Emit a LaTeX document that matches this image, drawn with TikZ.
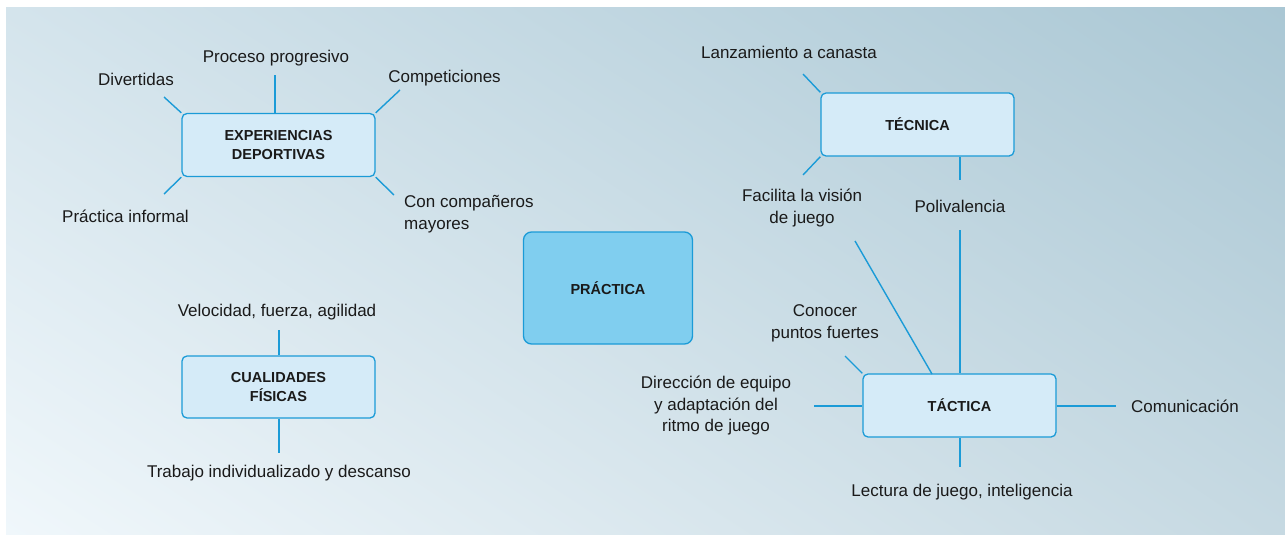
\documentclass[tikz,border=0pt]{standalone}
\usepackage{fontspec}
\setmainfont{Liberation Sans}
\usetikzlibrary{shadings}
\definecolor{linec}{HTML}{1B9BD7}
\definecolor{boxfill}{HTML}{D5EBF8}
\definecolor{pracfill}{HTML}{80CEEF}
\definecolor{txt}{HTML}{1A1A1A}
\definecolor{bgTL}{HTML}{D4E4EC}
\definecolor{bgTR}{HTML}{AAC7D4}
\definecolor{bgBL}{HTML}{F0F7FB}
\definecolor{bgBR}{HTML}{C6D9E2}
\begin{document}
\begin{tikzpicture}[x=1pt,y=-1pt,
  conn/.style={draw=linec, line width=1.4pt},
  box/.style={draw=linec, line width=1.3pt, fill=boxfill, rounded corners=5pt,
    minimum width=193pt, minimum height=63pt, inner sep=0pt, align=center,
    font=\bfseries\fontsize{14.5}{19.5}\selectfont, text=txt},
  lab/.style={inner sep=0pt, font=\fontsize{17}{21.7}\selectfont, text=txt,
    align=center, anchor=base}
]
\useasboundingbox (0,0) rectangle (1285,535);
\shade[upper left=bgTL, upper right=bgTR, lower left=bgBL, lower right=bgBR] (6,8) rectangle (1285,535);

% boxes
\node[box] (exp) at (278.5,145) {EXPERIENCIAS\\DEPORTIVAS};
\node[box, fill=pracfill, minimum width=169pt, minimum height=112pt, rounded corners=8pt] (prac) at (608,288) {PRÁCTICA};
\node[box, minimum height=62pt] (cual) at (278.5,387) {CUALIDADES\\FÍSICAS};
\node[box] (tec) at (917.5,124.5) {TÉCNICA};
\node[box] (tac) at (959.5,405.5) {TÁCTICA};

% labels (base anchor = baseline of last line)
\node[lab] (div) at (136,85) {Divertidas};
\node[lab] (proc) at (276,62.3) {Proceso progresivo};
\node[lab] (comp) at (444.5,82.7) {Competiciones};
\node[lab, align=left, anchor=base west] (con) at (404,229) {Con compañeros\\mayores};
\node[lab] (pinf) at (125.5,222.7) {Práctica informal};
\node[lab] (vel) at (277,316) {Velocidad, fuerza, agilidad};
\node[lab] (trab) at (279,477.7) {Trabajo individualizado y descanso};
\node[lab] (lanz) at (789,58.3) {Lanzamiento a canasta};
\node[lab] (fac) at (802,223.3) {Facilita la visión\\de juego};
\node[lab] (pol) at (960,212.3) {Polivalencia};
\node[lab] (cono) at (825,338.3) {Conocer\\puntos fuertes};
\node[lab] (dir) at (716,431.7) {Dirección de equipo\\y adaptación del\\ritmo de juego};
\node[lab] (comu) at (1185,412.7) {Comunicación};
\node[lab] (lect) at (962,496.7) {Lectura de juego, inteligencia};

% free ends
\coordinate (cDiv) at (164,97);
\coordinate (cProc) at (275,75);
\coordinate (cComp) at (400,90);
\coordinate (cCon) at (394,195);
\coordinate (cPinf) at (164,194);
\coordinate (cVel) at (279,330);
\coordinate (cTrab) at (279,453);
\coordinate (cLanz) at (803,74);
\coordinate (cFacT) at (803,175);
\coordinate (cPolT) at (960,180);
\coordinate (cPolB) at (960,230);
\coordinate (cFacB) at (855,241);
\coordinate (cTacF) at (932,374);
\coordinate (cCono) at (845,356);
\coordinate (cDir) at (814,406);
\coordinate (cComu) at (1116,406);
\coordinate (cLect) at (960,467);

% connectors
\draw[conn] (exp.north west) -- (cDiv);
\draw[conn] (exp.north -| cProc) -- (cProc);
\draw[conn] (exp.north east) -- (cComp);
\draw[conn] (exp.south east) -- (cCon);
\draw[conn] (exp.south west) -- (cPinf);
\draw[conn] (cual.north -| cVel) -- (cVel);
\draw[conn] (cual.south -| cTrab) -- (cTrab);
\draw[conn] (tec.north west) -- (cLanz);
\draw[conn] (tec.south west) -- (cFacT);
\draw[conn] (tec.south -| cPolT) -- (cPolT);
\draw[conn] (cPolB) -- (tac.north -| cPolB);
\draw[conn] (cFacB) -- (cTacF);
\draw[conn] (cCono) -- (tac.north west);
\draw[conn] (cDir) -- (tac.west |- cDir);
\draw[conn] (tac.east |- cComu) -- (cComu);
\draw[conn] (tac.south -| cLect) -- (cLect);
\end{tikzpicture}
\end{document}
